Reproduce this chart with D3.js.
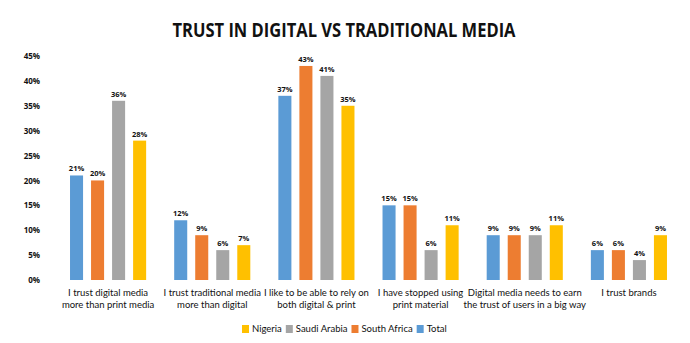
<!DOCTYPE html>
<html>
<head>
<meta charset="utf-8">
<script src="https://cdn.jsdelivr.net/npm/d3@7"></script>
<style>
  html, body { margin: 0; padding: 0; background: #fff; }
  text { font-family: Lato, "Open Sans", sans-serif; fill: #111; }
</style>
</head>
<body>
<div id="chart"></div>
<script>
const categories = [
  ['I trust digital media', 'more than print media'],
  ['I trust traditional media', 'more than digital'],
  ['I like to be able to rely on', 'both digital & print'],
  ['I have stopped using', 'print material'],
  ['Digital media needs to earn', 'the trust of users in a big way'],
  ['I trust brands']
];
const seriesNames = ['Total', 'South Africa', 'Saudi Arabia', 'Nigeria'];
const total = [21, 12, 37, 15, 9, 6];
const southAfrica = [20, 9, 43, 15, 9, 6];
const saudiArabia = [36, 6, 41, 6, 9, 4];
const nigeria = [28, 7, 35, 11, 11, 9];
const yTicks = [0, 5, 10, 15, 20, 25, 30, 35, 40, 45];
const legendOrder = ['Nigeria', 'Saudi Arabia', 'South Africa', 'Total'];

const seriesValues = [total, southAfrica, saudiArabia, nigeria];
const colours = {
  'Total': '#5B9BD5',
  'South Africa': '#ED7D31',
  'Saudi Arabia': '#A5A5A5',
  'Nigeria': '#FFC000'
};

const width = 690;
const height = 343;
const margin = { top: 56, right: 9, bottom: 64, left: 56 };

const svg = d3.select('#chart')
  .append('svg')
  .attr('width', width)
  .attr('height', height);

// Title
svg.append('text')
  .attr('x', 344)
  .attr('y', 37)
  .attr('text-anchor', 'middle')
  .attr('textLength', 343)
  .attr('lengthAdjust', 'spacingAndGlyphs')
  .style('font-family', '"Open Sans", sans-serif')
  .style('font-weight', 700)
  .style('font-size', '19px')
  .text('TRUST IN DIGITAL VS TRADITIONAL MEDIA');

const x0 = d3.scaleBand()
  .domain(d3.range(categories.length))
  .range([margin.left, width - margin.right]);

const x1 = d3.scaleBand()
  .domain(seriesNames)
  .range([0, x0.bandwidth()])
  .paddingInner(0.38)
  .paddingOuter(0.667);

const y = d3.scaleLinear()
  .domain([0, 45])
  .range([height - margin.bottom + 1, margin.top]);

// Y axis labels only, no line or gridlines
const yAxis = svg.append('g')
  .attr('transform', `translate(${margin.left - 16},0)`)
  .call(d3.axisLeft(y).tickValues(yTicks).tickFormat(d => d + '%').tickSize(0).tickPadding(0));
yAxis.select('.domain').remove();
yAxis.selectAll('text')
  .style('font-family', '"Open Sans", sans-serif')
  .style('font-weight', 700)
  .style('font-size', '8px')
  .attr('fill', '#111');

// Bars, grouped per category
const groups = svg.append('g')
  .selectAll('g')
  .data(categories.map((c, i) => i))
  .join('g')
  .attr('transform', i => `translate(${x0(i)},0)`);

const cells = groups.selectAll('g')
  .data(i => seriesNames.map((s, k) => ({ series: s, value: seriesValues[k][i] })))
  .join('g');

cells.append('rect')
  .attr('x', d => x1(d.series))
  .attr('y', d => y(d.value))
  .attr('width', x1.bandwidth())
  .attr('height', d => y(0) - y(d.value))
  .attr('fill', d => colours[d.series]);

cells.append('text')
  .attr('x', d => x1(d.series) + x1.bandwidth() / 2)
  .attr('y', d => y(d.value) - 4)
  .attr('text-anchor', 'middle')
  .style('font-family', '"Open Sans", sans-serif')
  .style('font-weight', 700)
  .style('font-size', '7.5px')
  .text(d => d.value + '%');

// Category labels under each group
const catLabels = svg.append('g')
  .selectAll('text')
  .data(categories)
  .join('text')
  .attr('x', (d, i) => x0(i) + x0.bandwidth() / 2)
  .attr('y', 296)
  .attr('text-anchor', 'middle')
  .style('font-size', '9.5px');

catLabels.selectAll('tspan')
  .data(d => d)
  .join('tspan')
  .attr('x', function () { return d3.select(this.parentNode).attr('x'); })
  .attr('dy', (d, i) => i === 0 ? 0 : 11.5)
  .text(d => d);

// Legend
const legend = svg.append('g').attr('transform', 'translate(242,329)');
let offset = 0;
legendOrder.forEach(name => {
  const item = legend.append('g').attr('transform', `translate(${offset},0)`);
  item.append('rect')
    .attr('x', 0)
    .attr('y', -4)
    .attr('width', 7)
    .attr('height', 8)
    .attr('fill', colours[name]);
  const label = item.append('text')
    .attr('x', 10)
    .attr('y', 3)
    .style('font-size', '9.5px')
    .text(name);
  offset += 10 + label.node().getComputedTextLength() + 4;
});
</script>
</body>
</html>
